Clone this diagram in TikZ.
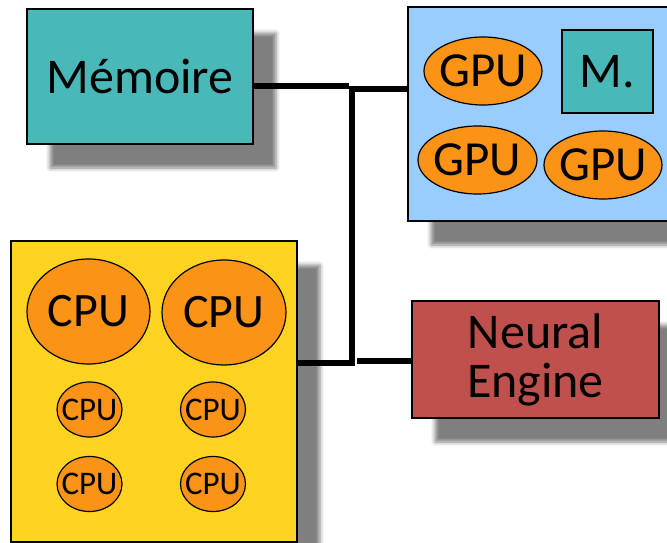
\documentclass[tikz,border=0pt]{standalone}
\usepackage{fontspec}
\setmainfont{Carlito}
\usetikzlibrary{shapes.geometric,shadows.blur}

\definecolor{memteal}{HTML}{48B8B8}
\definecolor{gpublue}{HTML}{99CCFF}
\definecolor{cpuyellow}{HTML}{FFD320}
\definecolor{coreorange}{HTML}{FB9416}
\definecolor{npured}{HTML}{C0504D}

\tikzset{
  softshadow/.style={blur shadow={shadow xshift=23pt, shadow yshift=-24pt,
      shadow blur radius=4pt, shadow opacity=50}},
  block/.style={draw=black, line width=1.3pt, inner sep=0pt, align=center, text=black},
  core/.style={ellipse, draw=black, line width=1.2pt, fill=coreorange, inner sep=0pt},
  bigtext/.style={font=\fontsize{50}{49}\selectfont},
  cputext/.style={font=\fontsize{48}{48}\selectfont, text=black},
  gputext/.style={font=\fontsize{49}{48}\selectfont, text=black},
  smalltext/.style={font=\fontsize{33}{34}\selectfont, text=black},
  bus/.style={line width=6pt, draw=black}
}

\begin{document}
\begin{tikzpicture}[x=1pt, y=-1pt]
  \useasboundingbox (0,0) rectangle (667,543);
  \clip (0,0) rectangle (667,543);

  % memory
  \node[block, softshadow, fill=memteal, minimum width=226pt, minimum height=135pt, bigtext]
    (mem) at (140,76.5) {Mémoire};

  % GPU cluster
  \node[block, softshadow, fill=gpublue, minimum width=282pt, minimum height=214pt]
    (gpubox) at (549,114) {};
  \node[core, minimum width=118pt, minimum height=68pt, label={[gputext]center:GPU}]
    (gpu1) at (483,71) {};
  \node[block, fill=memteal, minimum width=91pt, minimum height=83pt, bigtext]
    (gmem) at (607.5,71.5) {M.};
  \node[core, minimum width=119pt, minimum height=68pt, label={[gputext]center:GPU}]
    (gpu2) at (477.5,160) {};
  \node[core, minimum width=118pt, minimum height=68pt, label={[gputext]center:GPU}]
    (gpu3) at (603,165) {};

  % neural engine
  \node[block, softshadow, fill=npured, minimum width=247pt, minimum height=117pt, bigtext]
    (npu) at (535.5,359.5) {Neural\\Engine};

  % CPU cluster
  \node[block, softshadow, fill=cpuyellow, minimum width=286pt, minimum height=301pt]
    (cpubox) at (154,391.5) {};
  \node[core, minimum width=123pt, minimum height=105pt, label={[cputext]center:CPU}]
    (cpu1) at (88.5,311.5) {};
  \node[core, minimum width=124pt, minimum height=105pt, label={[cputext]center:CPU}]
    (cpu2) at (224,312.5) {};
  \node[core, minimum width=65pt, minimum height=55pt, label={[smalltext]center:CPU}]
    (cpu3) at (89.5,409.5) {};
  \node[core, minimum width=65pt, minimum height=55pt, label={[smalltext]center:CPU}]
    (cpu4) at (213,409.5) {};
  \node[core, minimum width=65pt, minimum height=55pt, label={[smalltext]center:CPU}]
    (cpu5) at (89.5,484) {};
  \node[core, minimum width=65pt, minimum height=55pt, label={[smalltext]center:CPU}]
    (cpu6) at (213,484) {};

  % interconnect
  \coordinate (jm) at (349,86);
  \coordinate (jg) at (349,89);
  \coordinate (jtop) at (352,86);
  \coordinate (jbot) at (352,366);
  \coordinate (jc) at (350,363);
  \coordinate (jn) at (357,361);
  \draw[bus] (mem.east |- jm) -- (jm);
  \draw[bus] (jg) -- (gpubox.west |- jg);
  \draw[bus] (jtop) -- (jbot);
  \draw[bus] (cpubox.east |- jc) -- (jc);
  \draw[bus] (jn) -- (npu.west |- jn);
\end{tikzpicture}
\end{document}
